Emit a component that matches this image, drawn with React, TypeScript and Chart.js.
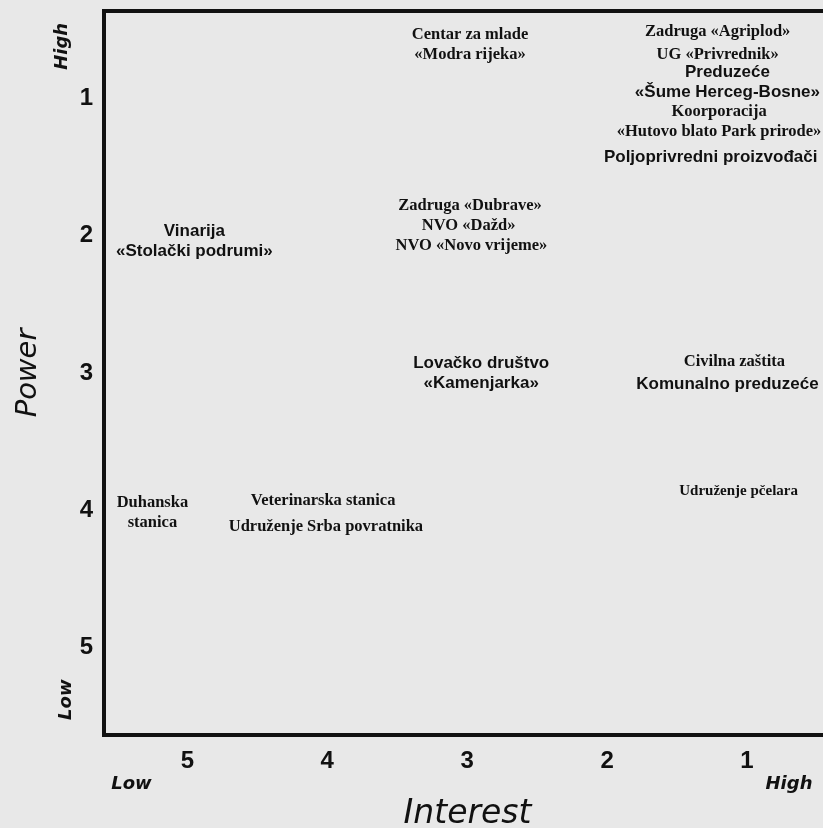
import { useEffect, useRef } from "react";
import { Chart, registerables } from "chart.js";

Chart.register(...registerables);

// ---- data ----
const stakeholders: string[][] = [
  ["Centar za mlade", "«Modra rijeka»"],
  ["Zadruga «Agriplod»"],
  ["UG «Privrednik»"],
  ["Preduzeće", "«Šume Herceg-Bosne»"],
  ["Koorporacija", "«Hutovo blato Park prirode»"],
  ["Poljoprivredni proizvođači"],
  ["Zadruga «Dubrave»"],
  ["NVO «Dažd»"],
  ["NVO «Novo vrijeme»"],
  ["Vinarija", "«Stolački podrumi»"],
  ["Lovačko društvo", "«Kamenjarka»"],
  ["Civilna zaštita"],
  ["Komunalno preduzeće"],
  ["Udruženje pčelara"],
  ["Duhanska", "stanica"],
  ["Veterinarska stanica"],
  ["Udruženje Srba povratnika"],
];
const interest = [2.98, 1.21, 1.21, 1.14, 1.2, 1.26, 2.98, 2.99, 2.97, 4.95, 2.9, 1.09, 1.14, 1.06, 5.25, 4.03, 4.01];
const power = [0.61, 0.51, 0.68, 0.88, 1.17, 1.43, 1.78, 1.93, 2.07, 2.04, 3.0, 2.92, 3.08, 3.86, 4.02, 3.93, 4.12];
const tickValues = [1, 2, 3, 4, 5];
const xTitle = "Interest";
const yTitle = "Power";
const lowLabel = "Low";
const highLabel = "High";

// ---- styles ----
const labelFontKind = [
  "serif", "serif", "serif", "sans", "serif", "sans", "serif", "serif", "serif",
  "sans", "sans", "serif", "sans", "serifSmall", "serif", "serif", "serif",
];
const FONTS: Record<string, string> = {
  serif: "bold 16.5px 'Liberation Serif', 'Times New Roman', serif",
  serifSmall: "bold 15px 'Liberation Serif', 'Times New Roman', serif",
  sans: "bold 17px 'Liberation Sans', Arial, sans-serif",
};
const BG = "#e8e8e8";
const INK = "#111111";

const decorPlugin = {
  id: "decor",
  beforeDraw(chart: any) {
    const { ctx, width, height } = chart;
    ctx.save();
    ctx.fillStyle = BG;
    ctx.fillRect(0, 0, width, height);
    ctx.restore();
  },
  afterDraw(chart: any) {
    const { ctx, chartArea } = chart;
    const xs = chart.scales.x;
    const ys = chart.scales.y;
    ctx.save();
    // frame (left, top, bottom)
    ctx.strokeStyle = INK;
    ctx.lineWidth = 4;
    ctx.lineCap = "square";
    ctx.beginPath();
    ctx.moveTo(chart.width + 5, chartArea.top);
    ctx.lineTo(chartArea.left, chartArea.top);
    ctx.lineTo(chartArea.left, chartArea.bottom);
    ctx.lineTo(chart.width + 5, chartArea.bottom);
    ctx.stroke();

    // stakeholder labels
    ctx.fillStyle = INK;
    ctx.textAlign = "center";
    ctx.textBaseline = "middle";
    const lh = 20;
    stakeholders.forEach((lines, i) => {
      const px = xs.getPixelForValue(interest[i]);
      const py = ys.getPixelForValue(power[i]);
      ctx.font = FONTS[labelFontKind[i]];
      const y0 = py - ((lines.length - 1) * lh) / 2;
      lines.forEach((t, k) => ctx.fillText(t, px, y0 + k * lh));
    });

    // axis titles and end labels
    ctx.textBaseline = "alphabetic";
    ctx.font = "oblique 33px 'DejaVu Sans', sans-serif";
    ctx.fillText(xTitle, (chartArea.left + chartArea.right) / 2 + 4, chartArea.bottom + 88);

    ctx.font = "bold oblique 18px 'DejaVu Sans', sans-serif";
    ctx.textBaseline = "middle";
    ctx.fillText(lowLabel, xs.getPixelForValue(5.4), chartArea.bottom + 49);
    ctx.fillText(highLabel, xs.getPixelForValue(0.7), chartArea.bottom + 49);

    const vert = (text: string, x: number, y: number, font: string) => {
      ctx.save();
      ctx.translate(x, y);
      ctx.rotate(-Math.PI / 2);
      ctx.font = font;
      ctx.textAlign = "center";
      ctx.textBaseline = "middle";
      ctx.fillText(text, 0, 0);
      ctx.restore();
    };
    vert(highLabel, 62, ys.getPixelForValue(0.62), "bold oblique 18px 'DejaVu Sans', sans-serif");
    vert(lowLabel, 66, ys.getPixelForValue(5.38), "bold oblique 18px 'DejaVu Sans', sans-serif");
    vert(yTitle, 28, ys.getPixelForValue(3.0), "oblique 29px 'DejaVu Sans', sans-serif");
    ctx.restore();
  },
};

export default function App() {
  const ref = useRef<HTMLCanvasElement | null>(null);

  useEffect(() => {
    document.body.style.margin = "0";
    document.body.style.overflow = "hidden";
    document.body.style.background = BG;
    const canvas = ref.current;
    if (!canvas) return;
    const tickFont = { family: "'Liberation Sans', Arial, sans-serif", size: 24, weight: "bold" as const };
    const chart = new Chart(canvas, {
      type: "scatter",
      data: {
        datasets: [
          {
            label: "Stakeholders",
            data: interest.map((v, i) => ({ x: v, y: power[i] })),
            pointRadius: 0,
            pointHoverRadius: 0,
          },
        ],
      },
      options: {
        responsive: false,
        animation: false,
        events: [],
        layout: { padding: { top: 11, left: 0, right: 0, bottom: 0 } },
        plugins: { legend: { display: false }, tooltip: { enabled: false } },
        scales: {
          x: {
            type: "linear",
            reverse: true,
            min: 0.457,
            max: 5.596,
            grid: { display: false, drawTicks: false },
            border: { display: false },
            afterBuildTicks: (s: any) => {
              s.ticks = tickValues.map((v) => ({ value: v }));
            },
            afterFit: (s: any) => {
              s.height = 93;
              s.paddingLeft = 0;
              s.paddingRight = 0;
              s.paddingTop = 0;
              s.paddingBottom = 0;
            },
            ticks: { font: tickFont, color: INK, padding: 12, maxRotation: 0, autoSkip: false },
          },
          y: {
            type: "linear",
            reverse: true,
            min: 0.3625,
            max: 5.6375,
            grid: { display: false, drawTicks: false },
            border: { display: false },
            afterBuildTicks: (s: any) => {
              s.ticks = tickValues.map((v) => ({ value: v }));
            },
            afterFit: (s: any) => {
              s.width = 104;
              s.paddingLeft = 0;
              s.paddingRight = 0;
              s.paddingTop = 0;
              s.paddingBottom = 0;
            },
            ticks: { font: tickFont, color: INK, padding: 11, autoSkip: false },
          },
        },
      },
      plugins: [decorPlugin],
    });
    return () => chart.destroy();
  }, []);

  return <canvas ref={ref} width={823} height={828} style={{ display: "block" }} />;
}
